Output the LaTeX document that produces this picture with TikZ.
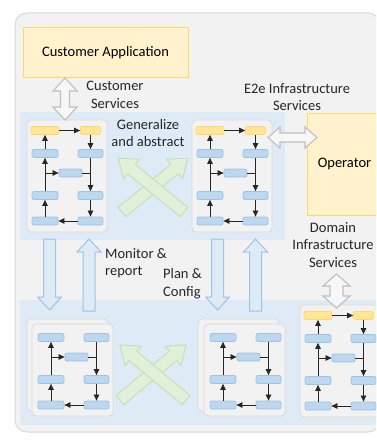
\documentclass[tikz,border=0pt]{standalone}
\usepackage{fontspec}
\setmainfont{Carlito}
\usetikzlibrary{arrows.meta,calc}

\definecolor{bgGray}{HTML}{F2F2F2}
\definecolor{bgEdge}{HTML}{D9D9D9}
\definecolor{band}{HTML}{DEEBF7}
\definecolor{barBlue}{HTML}{BDD7EE}
\definecolor{barBlueEdge}{HTML}{9DC3E6}
\definecolor{barYel}{HTML}{FFE699}
\definecolor{barYelEdge}{HTML}{FFD966}
\definecolor{boxYel}{HTML}{FFF2CC}
\definecolor{arGreen}{HTML}{E2F0D9}
\definecolor{arGreenEdge}{HTML}{C5E0B4}
\definecolor{arGray}{HTML}{BFBFBF}
\definecolor{arGrayFill}{HTML}{F7F7F7}
\definecolor{txt}{HTML}{262626}

% single fat arrow: style, tail, angle, length, shaft half width, head half width, head length
\newcommand\fatarrow[7]{%
  \draw[#1,shift={(#2)},rotate=#3]
    (0,-#5) -- ({#4-#7},-#5) -- ({#4-#7},-#6) -- (#4,0)
    -- ({#4-#7},#6) -- ({#4-#7},#5) -- (0,#5) -- cycle;}
% double fat arrow with the same arguments
\newcommand\dblarrow[7]{%
  \draw[#1,shift={(#2)},rotate=#3]
    (0,0) -- (#7,-#6) -- (#7,-#5) -- ({#4-#7},-#5) -- ({#4-#7},-#6) -- (#4,0)
    -- ({#4-#7},#6) -- ({#4-#7},#5) -- (#7,#5) -- (#7,#6) -- cycle;}

% the six blue steps of a workflow card, shifted down by #1
\newcommand\flowrows[1]{%
  \begin{scope}[shift={(0,#1)}]
    \node[bbar,minimum width=26pt] (-l1) at (18,13.5) {};
    \node[bbar,minimum width=25pt] (-r1) at (63.5,13.5) {};
    \node[bbar,minimum width=23pt] (-m)  at (43.5,33) {};
    \node[bbar,minimum width=26pt] (-l2) at (18,55.5) {};
    \node[bbar,minimum width=25pt] (-r2) at (63.5,55.5) {};
    \node[bbar,minimum width=26pt] (-l3) at (18,81) {};
    \node[bbar,minimum width=25pt] (-r3) at (63.5,81) {};
  \end{scope}
  \draw[flow] (-l3) -- (-l2);
  \draw[flow] (-l2) -- (-l1);
  \draw[flow] (-m.west -| -l1.south) -- (-m.west);
  \draw[flow] (-r1) -- (-r2);
  \draw[link] (-m.east) -- (-m.east -| -r1.south);
  \draw[flow] (-r2) -- (-r3);
  \draw[flow] (-r3) -- (-l3);}

\tikzset{
  bar/.style={rounded corners=2pt,minimum height=8pt,inner sep=0pt,line width=0.8pt},
  bbar/.style={bar,fill=barBlue,draw=barBlueEdge},
  ybar/.style={bar,fill=barYel,draw=barYelEdge},
  flow/.style={draw=black!85,line width=0.7pt,-{Triangle[length=6pt,width=5.5pt]}},
  link/.style={draw=black!85,line width=0.7pt},
  cardbg/.style={fill=bgGray,draw=bgEdge,line width=0.8pt,rounded corners=4pt},
  ybox/.style={fill=boxYel,draw=barYelEdge,line width=1pt,inner sep=0pt,font=\lbl},
  grayarrow/.style={fill=arGrayFill,draw=arGray,line width=1.1pt,line join=miter},
  bluearrow/.style={fill=band,draw=barBlueEdge,line width=1pt,line join=miter},
  greenarrow/.style={fill=arGreen,draw=arGreenEdge,line width=1pt,line join=miter},
  label/.style={inner sep=0pt,font=\lbl,text=txt},
  pics/cardN/.style={code={
    \path[cardbg] (0,0) rectangle (81,92);
    \begin{scope}[shift={(1,0)}]
      \flowrows{0}
    \end{scope}
  }},
  pics/cardY/.style={code={
    \path[cardbg] (0,0) rectangle (80,112);
    \node[ybar,minimum width=28pt] (-yl) at (18,10.5) {};
    \node[ybar,minimum width=20pt] (-yr) at (63.5,10.5) {};
    \flowrows{20}
    \draw[flow] (-yl) -- (-yr);
    \draw[flow] (-l1) -- (-yl);
    \draw[flow] (-yr) -- (-r1);
  }},
}
\newcommand\lbl{\fontsize{14.5}{17.5}\selectfont}

\begin{document}
\begin{tikzpicture}[x=1pt,y=-1pt]
  \useasboundingbox (0,0) rectangle (376,441);
  \clip (0,0) rectangle (376,441);
  \fill[white] (0,0) rectangle (376,441);

  % frame and the two layers
  \path[fill=bgGray,draw=bgEdge,line width=1pt,rounded corners=12pt] (15,13) rectangle (380,432);
  \fill[band] (20,112) rectangle (285,240);
  \fill[band] (20,300) rectangle (390,425);

  % customer and operator
  \node[ybox,minimum width=165pt,minimum height=50pt] (app) at (105.5,53) {Customer Application};
  \node[ybox,minimum width=75pt,minimum height=102pt] (op) at (344.5,164) {Operator};

  % upper layer workflows
  \pic (c1) at (27,120) {cardY};
  \pic (c2) at (192,120) {cardY};

  % lower layer workflows
  \path[cardbg] (27,319) rectangle +(81,92);
  \pic (c3) at (32,324) {cardN};
  \path[cardbg] (198,319) rectangle +(81,92);
  \pic (c4) at (204,324) {cardN};
  \pic (c5) at (300,305) {cardY};

  % service interfaces
  \dblarrow{grayarrow}{65,78}{-90}{42}{4.5}{12}{13}
  \dblarrow{grayarrow}{268,137.5}{0}{49}{4.5}{10.5}{12}
  \dblarrow{grayarrow}{336.5,274}{-90}{34}{6.5}{13.5}{12}

  % between the layers
  \fatarrow{bluearrow}{49.5,239}{-90}{71}{6}{12}{13}
  \fatarrow{bluearrow}{89,311}{90}{72}{6}{12}{13}
  \fatarrow{bluearrow}{217.5,239}{-90}{71}{6}{12}{13}
  \fatarrow{bluearrow}{255.5,311}{90}{72}{6}{12}{13}

  % crossing arrows in each layer
  \fatarrow{greenarrow}{122,212}{39.3}{85}{6}{12.5}{17}
  \fatarrow{greenarrow}{184,212}{140.7}{85}{6}{12.5}{17}
  \fatarrow{greenarrow}{120,400}{39.8}{86}{6}{12.5}{17}
  \fatarrow{greenarrow}{186,400}{140.2}{86}{6}{12.5}{17}

  % labels
  \node[label,align=center] (lcs) at (115,95) {Customer\\Services};
  \node[label,align=center] (le2e) at (297,97) {E2e Infrastructure\\Services};
  \node[label,align=center] (lgen) at (148,133) {Generalize\\and abstract};
  \node[label,align=center] (ldom) at (333,245) {Domain\\Infrastructure\\Services};
  \node[label,align=left,anchor=west] (lmon) at (105,263) {Monitor \&\\report};
  \node[label,align=left,anchor=west] (lplan) at (163,283.5) {Plan \&\\Config};
\end{tikzpicture}
\end{document}
